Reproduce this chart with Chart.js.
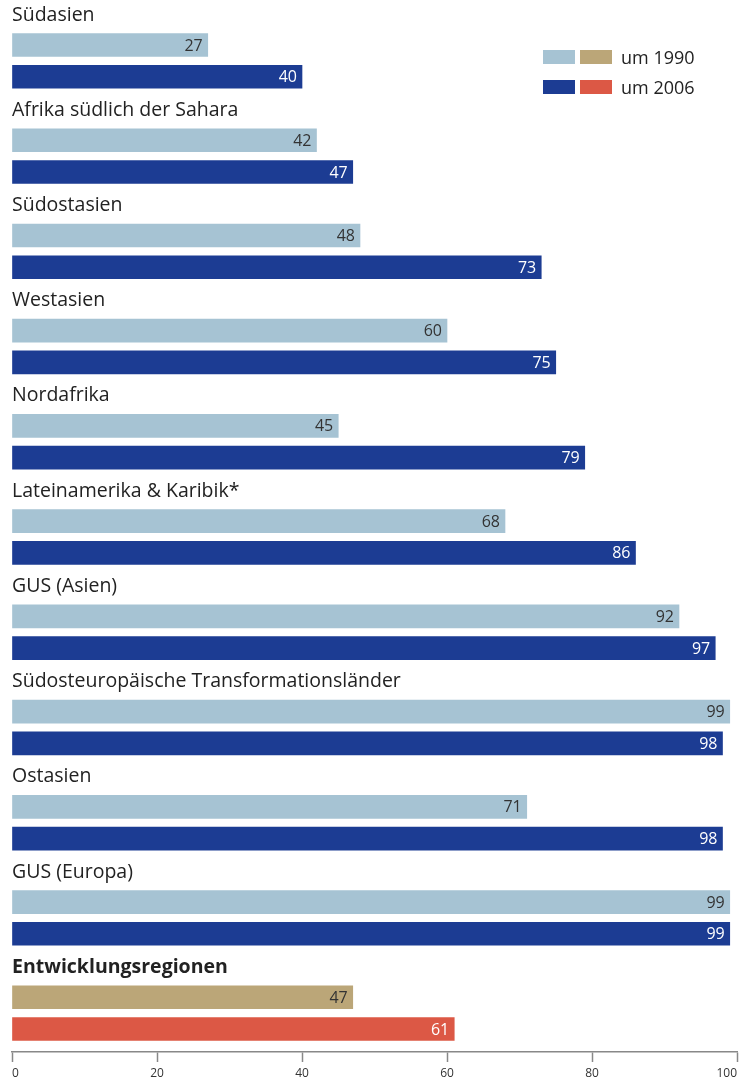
<!DOCTYPE html>
<html>
<head>
<meta charset="utf-8">
<script src="https://cdn.jsdelivr.net/npm/chart.js@4"></script>
<style>
  body { margin: 0; background: #fff; }
  #wrap { width: 747px; height: 1084px; position: relative; }
</style>
</head>
<body>
<div id="wrap"><canvas id="bar"></canvas></div>
<script>
'use strict';

// Regionen (von oben nach unten)
const regions = [
    'Südasien',
    'Afrika südlich der Sahara',
    'Südostasien',
    'Westasien',
    'Nordafrika',
    'Lateinamerika & Karibik*',
    'GUS (Asien)',
    'Südosteuropäische Transformationsländer',
    'Ostasien',
    'GUS (Europa)',
    'Entwicklungsregionen'
];
const val1990 = [27, 42, 48, 60, 45, 68, 92, 99, 71, 99, 47];
const val2006 = [40, 47, 73, 75, 79, 86, 97, 98, 98, 99, 61];
const seriesNames = ['um 1990', 'um 2006'];
const xTicks = [0, 20, 40, 60, 80, 100];

// Farben: normale Regionen blau, Summe (letzte Zeile) beige/rot
const light = '#a6c3d3', dark = '#1c3c93';
const tan = '#bba678', red = '#dc5845';
const lastIdx = regions.length - 1;

const FONT = '"Open Sans", "Noto Sans", sans-serif';

// jede Region belegt 3 Zeilen: Titel, 1990, 2006
const rows1990 = val1990.map((v, i) => ({ x: v, y: 3 * i + 1 }));
const rows2006 = val2006.map((v, i) => ({ x: v, y: 3 * i + 2 }));

// Beschriftungen: Regionsname über dem Balkenpaar + Wert im Balken
const labelPlugin = {
    id: 'labels',
    afterDatasetsDraw(chart) {
        const ctx = chart.ctx;
        const m0 = chart.getDatasetMeta(0);
        const m1 = chart.getDatasetMeta(1);
        ctx.save();
        // Regionsnamen
        ctx.textAlign = 'left';
        ctx.textBaseline = 'alphabetic';
        ctx.fillStyle = '#222';
        m0.data.forEach((bar, i) => {
            const top = bar.y - bar.height / 2;
            ctx.font = (i === lastIdx ? 'bold ' : '') + '19.5px ' + FONT;
            ctx.fillText(regions[i], chart.chartArea.left, top - 13);
        });
        // Werte
        ctx.font = '16px ' + FONT;
        ctx.textAlign = 'right';
        ctx.textBaseline = 'middle';
        m0.data.forEach((bar, i) => {
            ctx.fillStyle = '#333';
            ctx.fillText(String(val1990[i]), bar.x - 5, bar.y + 1);
        });
        m1.data.forEach((bar, i) => {
            ctx.fillStyle = '#fff';
            ctx.fillText(String(val2006[i]), bar.x - 5, bar.y + 1);
        });
        ctx.restore();
    }
};

// Legende mit je zwei Farbfeldern
const legendPlugin = {
    id: 'legend2',
    afterDraw(chart) {
        const ctx = chart.ctx;
        const rows = [[light, tan], [dark, red]];
        ctx.save();
        ctx.font = '18px ' + FONT;
        ctx.textAlign = 'left';
        ctx.textBaseline = 'alphabetic';
        rows.forEach((cols, r) => {
            const y = 50 + r * 30;
            ctx.fillStyle = cols[0];
            ctx.fillRect(543, y, 32, 14);
            ctx.fillStyle = cols[1];
            ctx.fillRect(580, y, 32, 14);
            ctx.fillStyle = '#222';
            ctx.fillText(seriesNames[r], 621, y + 14);
        });
        ctx.restore();
    }
};

const bar = document.getElementById('bar');
const barChart = new Chart(bar, {
    type: 'bar',
    data: {
        datasets: [{
            label: seriesNames[0],
            data: rows1990,
            backgroundColor: val1990.map((v, i) => i === lastIdx ? tan : light)
        }, {
            label: seriesNames[1],
            data: rows2006,
            backgroundColor: val2006.map((v, i) => i === lastIdx ? red : dark)
        }]
    },
    options: {
        indexAxis: 'y',
        responsive: true,
        maintainAspectRatio: false,
        animation: false,
        layout: { padding: { left: 12, right: 10, top: 0, bottom: -2 } },
        datasets: {
            bar: { grouped: false, barThickness: 23, borderWidth: 0 }
        },
        plugins: {
            legend: { display: false },
            tooltip: { enabled: false }
        },
        scales: {
            y: {
                type: 'linear',
                reverse: true,
                offset: false,
                min: -0.418,
                max: 32.724,
                display: false
            },
            x: {
                type: 'linear',
                min: 0,
                max: 100,
                afterBuildTicks(scale) {
                    scale.ticks = xTicks.map(v => ({ value: v }));
                },
                ticks: {
                    align: 'inner',
                    padding: 3,
                    color: '#333',
                    font: { family: FONT, size: 12, lineHeight: 1.5 }
                },
                grid: {
                    drawOnChartArea: false,
                    drawTicks: true,
                    tickLength: 10,
                    tickColor: '#888',
                    tickWidth: 1.5
                },
                border: { display: true, color: '#888', width: 1.5 }
            }
        }
    },
    plugins: [labelPlugin, legendPlugin]
});
</script>
</body>
</html>
